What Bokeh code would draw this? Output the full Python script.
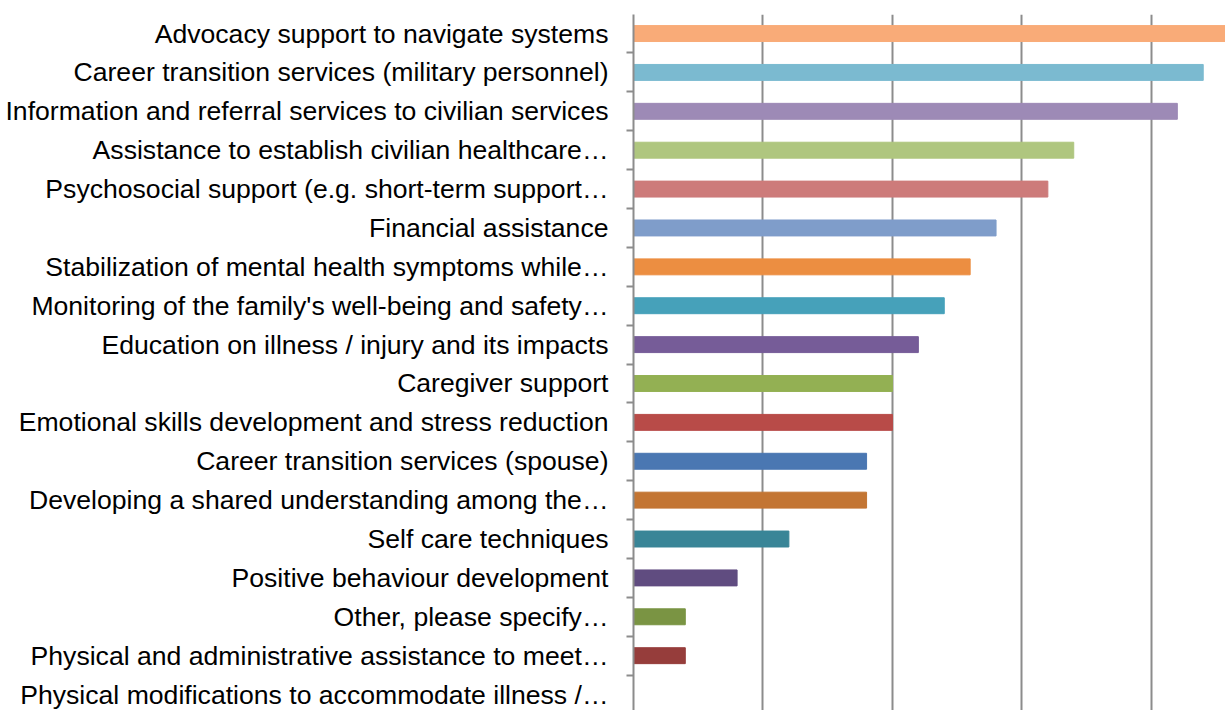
from bokeh.plotting import figure
from bokeh.models import ColumnDataSource, Range1d, FixedTicker
from bokeh.embed import file_html
from bokeh.resources import INLINE

categories = [
    "Advocacy support to navigate systems",
    "Career transition services (military personnel)",
    "Information and referral services to civilian services",
    "Assistance to establish civilian healthcare…",
    "Psychosocial support (e.g. short-term support…",
    "Financial assistance",
    "Stabilization of mental health symptoms while…",
    "Monitoring of the family's well-being and safety…",
    "Education on illness / injury and its impacts",
    "Caregiver support",
    "Emotional skills development and stress reduction",
    "Career transition services (spouse)",
    "Developing a shared understanding among the…",
    "Self care techniques",
    "Positive behaviour development",
    "Other, please specify…",
    "Physical and administrative assistance to meet…",
    "Physical modifications to accommodate illness /…",
]
values = [23, 22, 21, 17, 16, 14, 13, 12, 11, 10, 10, 9, 9, 6, 4, 2, 2, 0]
colors = [
    "#F9AB78", "#7BBAD0", "#9D8AB6", "#AFC67F", "#CD7B7A", "#7F9DCA",
    "#EC8E41", "#46A1BA", "#765C98", "#93B053", "#B84B48", "#4A77B2",
    "#C37533", "#398597", "#604C80", "#7A9443", "#963D3B", "#888888",
]
grid_ticks = [0, 5, 10, 15, 20]

pos = list(range(len(categories)))
src = ColumnDataSource(dict(y=pos, v=values, c=colors))

p = figure(width=1225, height=710, output_backend="svg", toolbar_location=None,
           x_range=Range1d(0, 22.86), y_range=Range1d(17.41, -0.49),
           min_border_left=633, min_border_right=0, min_border_top=14, min_border_bottom=0)
p.hbar(y="y", right="v", left=0, height=0.41, color="c", source=src)

p.outline_line_color = None
p.xaxis.visible = False
p.xgrid.ticker = FixedTicker(ticks=grid_ticks)
p.xgrid.grid_line_color = "#8C8C8C"
p.xgrid.grid_line_width = 2
p.ygrid.grid_line_color = None

ya = p.yaxis[0]
ya.ticker = FixedTicker(ticks=pos, minor_ticks=[i - 0.5 for i in range(len(categories) + 1)])
ya.major_label_overrides = {i: c for i, c in enumerate(categories)}
ya.major_tick_out = 0
ya.major_tick_in = 0
ya.minor_tick_out = 7
ya.minor_tick_in = 0
ya.minor_tick_line_color = "#8C8C8C"
ya.minor_tick_line_width = 2
ya.axis_line_color = "#8C8C8C"
ya.axis_line_width = 2
ya.major_label_standoff = 18
ya.major_label_text_font = "Liberation Sans"
ya.major_label_text_font_size = "26.6px"
ya.major_label_text_color = "#000000"

open("out.html", "w").write(file_html(p, INLINE))
